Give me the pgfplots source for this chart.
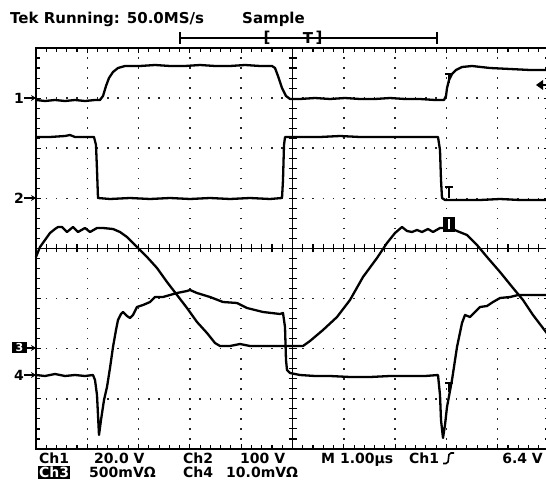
\documentclass[border=0pt]{standalone}
\usepackage{pgfplots}
\pgfplotsset{compat=1.18}
\usetikzlibrary{arrows.meta}
\usepackage{fontspec}
\setmainfont{DejaVu Sans}
\newcommand{\topfont}{\fontsize{15}{15}\selectfont\bfseries}
\newcommand{\botfont}{\fontsize{14}{14}\selectfont\bfseries}
\begin{document}
\begin{tikzpicture}[x=1pt,y=1pt]
\clip (0,0) rectangle (546,481);
\useasboundingbox (0,0) rectangle (546,481);
% graticule dotted lines
\foreach \gx in {87.3,138.6,189.9,241.2,343.8,395.1,446.4,497.7}
  \draw[black!85, line width=1.5pt, dash pattern=on 1.5pt off 8.525pt, dash phase=0.75pt] (\gx,32)--(\gx,433);
\foreach \gy in {382.875,332.75,282.625,182.375,132.25,82.125}
  \draw[black!85, line width=1.5pt, dash pattern=on 1.5pt off 8.76pt, dash phase=0.75pt] (36,\gy)--(549,\gy);
% centre cross
\draw[black, line width=1.4pt] (36,232.5)--(549,232.5);
\draw[black, line width=1.4pt] (292.5,32)--(292.5,433);
\foreach \k in {0,...,50} \draw[black, line width=1.1pt] ({36+10.26*\k},228.5)--({36+10.26*\k},236.5);
\foreach \k in {0,...,40} \draw[black, line width=1.1pt] (288.5,{32+10.025*\k})--(296.5,{32+10.025*\k});
\begin{axis}[at={(36pt,32pt)}, anchor=south west, scale only axis,
  width=513pt, height=401pt,
  xmin=36, xmax=549, ymin=48, ymax=449, y dir=reverse,
  xtick={36,87.3,138.6,189.9,241.2,292.5,343.8,395.1,446.4,497.7,549},
  ytick={48,98.125,148.25,198.375,248.5,298.625,348.75,398.875,449},
  minor x tick num=4, minor y tick num=4,
  xticklabels={}, yticklabels={},
  tick align=inside, major tick length=5pt, minor tick length=4pt,
  tick style={black, line width=1.1pt},
  axis line style={black, line width=2.2pt},
  clip=false]
% Ch1
\addplot[black, line width=2.3pt, line join=round] coordinates {
(36,100) (45,101) (55,100) (65,101) (75,100) (85,101) (95,100) (100,100) (103,96) (106,86) (109,78) (113,72) (118,68) (125,66) (140,66) (155,65) (170,66) (185,66) (200,65) (215,66) (230,66) (245,65) (260,66) (272,66) (275,68) (278,76) (282,88) (286,96) (290,99) (300,99) (315,98) (330,99) (345,98) (360,99) (375,99) (390,98) (405,99) (420,99) (435,100) (444,100) (446,96) (447,88) (449,80) (452,74) (456,70) (462,67) (472,66) (490,68) (510,69) (530,70) (549,70)};
% Ch2
\addplot[black, line width=2.3pt, line join=round] coordinates {
(36,137) (50,137) (65,136) (70,135) (75,137) (85,137) (94,137) (96,145) (97,170) (98,198) (110,199) (130,198) (150,199) (170,198) (190,199) (210,198) (230,199) (250,198) (270,199) (282,198) (283,180) (284,145) (285,137) (300,137) (320,137) (340,136) (360,137) (380,137) (400,137) (420,137) (438,137) (440,150) (441,180) (442,198) (445,200) (460,200) (480,200) (500,199) (520,200) (549,200)};
% Ch3
\addplot[black, line width=2.3pt, line join=round] coordinates {
(36,257) (40,247) (45,240) (50,233) (55,229) (58,227) (62,227) (67,232) (73,227) (78,232) (85,228) (90,232) (97,228) (103,228) (113,229) (120,232) (127,237) (137,247) (147,257) (157,268) (167,282) (177,295) (187,308) (197,322) (207,333) (215,343) (220,346) (230,346) (240,344) (250,346) (270,346) (290,346) (303,346) (310,341) (323,330) (337,317) (350,300) (363,277) (377,258) (387,243) (395,233) (402,227) (407,231) (412,232) (417,230) (422,232) (428,229) (433,232) (440,228) (450,228) (457,231) (467,235) (477,245) (487,257) (500,272) (513,288) (523,300) (533,315) (549,336)};
% Ch4
\addplot[black, line width=2.3pt, line join=round] coordinates {
(36,375) (45,376) (55,374) (65,376) (75,375) (85,376) (93,375) (95,380) (97,395) (98,415) (99,435) (101,420) (104,400) (107,387) (110,368) (113,347) (116,330) (118,320) (121,314) (123,312) (127,316) (130,318) (133,315) (137,307) (143,305) (150,302) (155,297) (163,297) (170,295) (177,293) (187,291) (190,290) (197,293) (210,297) (223,302) (237,303) (247,308) (263,312) (280,314) (283,313) (285,327) (286,360) (287,370) (290,373) (300,375) (315,376) (330,376) (350,377) (370,377) (390,376) (410,376) (425,376) (438,375) (440,395) (441,420) (443,438) (445,425) (447,407) (452,380) (457,347) (462,323) (465,315) (470,317) (475,312) (480,307) (487,306) (493,302) (500,298) (510,297) (518,295) (530,295) (549,295)};
\end{axis}
% cursor / trigger markers on traces
\draw[black, line width=1.6pt] (445,407)--(453,407) (449,407)--(449,398);
\draw[black, line width=1.6pt] (445,294)--(453,294) (449,294)--(449,283);
\fill[black] (443,249) rectangle (455,264);
\draw[white, line width=1.5pt] (449,251.5)--(449,261.5);
\draw[black, line width=1.6pt] (445,98)--(453,98) (449,98)--(449,89);
% trigger level arrow
\fill[black] (536,396)--(543,401)--(543,391)--cycle;
\draw[black, line width=1.6pt] (542,396)--(546,396);
% channel ground markers
\node[font=\botfont, anchor=center] at (19,383) {1};
\draw[black, line width=1.4pt, -{Stealth[length=5pt,width=6pt]}] (24,383)--(36,383);
\node[font=\botfont, anchor=center] at (19,283) {2};
\draw[black, line width=1.4pt, -{Stealth[length=5pt,width=6pt]}] (24,283)--(36,283);
\node[font=\fontsize{11}{11}\selectfont\bfseries, fill=black, text=white, inner sep=0pt, minimum width=15pt, minimum height=11pt, anchor=center] at (19.5,133) {3};
\draw[black, line width=1.4pt, -{Stealth[length=5pt,width=6pt]}] (27,133)--(36,133);
\node[font=\botfont, anchor=center] at (19,106) {4};
\draw[black, line width=1.4pt, -{Stealth[length=5pt,width=6pt]}] (24,106)--(36,106);
% top texts
\node[font=\topfont, anchor=base west, inner sep=0pt] at (10,457) {Tek Running: 50.0MS/s};
\node[font=\topfont, anchor=base west, inner sep=0pt] at (242,457) {Sample};
\draw[black, line width=1.2pt] (180,443)--(437,443) (180,437)--(180,449) (437,437)--(437,449);
\node[font=\topfont, anchor=center, inner sep=0pt] at (267,443) {[};
\node[font=\topfont, anchor=center, inner sep=0pt] at (308,443) {T};
\node[font=\topfont, anchor=center, inner sep=0pt] at (319,443) {]};
% bottom texts
\node[font=\botfont, anchor=base west, inner sep=0pt] at (39,17) {Ch1};
\node[font=\botfont, anchor=base west, inner sep=0pt] at (94,17) {20.0 V};
\node[font=\botfont, anchor=base west, inner sep=0pt] at (183,17) {Ch2};
\node[font=\botfont, anchor=base west, inner sep=0pt] at (240,17) {100 V};
\node[font=\botfont, anchor=base west, inner sep=0pt] at (321,17) {M 1.00µs};
\node[font=\botfont, anchor=base west, inner sep=0pt] at (409,17) {Ch1};
\draw[black, line width=1.6pt] (443,17.5)--(446,17.5) to[out=0,in=180] (451,28) -- (454,28);
\node[font=\botfont, anchor=base east, inner sep=0pt] at (543,17) {6.4 V};
\node[font=\botfont, fill=black, text=white, anchor=base west, inner sep=1pt] at (38,3) {Ch3};
\node[font=\botfont, anchor=base west, inner sep=0pt] at (89,3) {500mVΩ};
\node[font=\botfont, anchor=base west, inner sep=0pt] at (183,3) {Ch4};
\node[font=\botfont, anchor=base west, inner sep=0pt] at (226,3) {10.0mVΩ};
\end{tikzpicture}
\end{document}
